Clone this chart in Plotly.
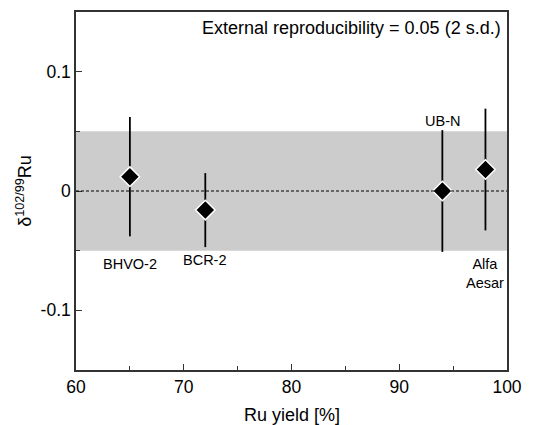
import plotly.graph_objects as go

samples = ["BHVO-2", "BCR-2", "UB-N", "Alfa<br>Aesar"]
ru_yield = [65, 72, 94, 98]
delta_ru = [0.012, -0.016, 0.000, 0.018]
err_2sd = [0.050, 0.031, 0.051, 0.051]
reproducibility = 0.05

label_y = [-0.061, -0.0575, 0.059, -0.069]

font = "Liberation Sans, Arial, sans-serif"
fig = go.Figure()

fig.add_shape(type="rect", xref="x", yref="y", x0=60, x1=100,
              y0=-reproducibility, y1=reproducibility,
              fillcolor="#cccccc", line=dict(width=0), layer="below")
fig.add_shape(type="line", xref="x", yref="y", x0=60, x1=100, y0=0, y1=0,
              line=dict(color="black", width=1, dash="3px,2px"))

fig.add_trace(go.Scatter(
    x=ru_yield, y=delta_ru, mode="markers",
    error_y=dict(type="data", array=err_2sd, color="black", thickness=1.8, width=0),
    marker=dict(symbol="diamond", size=15, color="black",
                line=dict(color="white", width=1.5)),
    showlegend=False))

for s, xv, yv in zip(samples, ru_yield, label_y):
    fig.add_annotation(x=xv, y=yv, text=s, showarrow=False,
                       font=dict(family=font, size=14.5, color="black"),
                       yanchor="middle")

fig.add_annotation(xref="paper", yref="paper", x=0.99, y=0.955,
                   text="External reproducibility = 0.05 (2 s.d.)",
                   showarrow=False, xanchor="right", yanchor="middle",
                   font=dict(family=font, size=18, color="black"))

# axis titles
fig.add_annotation(xref="paper", yref="paper", x=0.5, y=-0.125,
                   text="Ru yield [%]", showarrow=False,
                   xanchor="center", yanchor="middle",
                   font=dict(family=font, size=18, color="black"))
fig.add_annotation(xref="paper", yref="paper", x=-0.121, y=0.5,
                   text="δ<sup>102/99</sup>Ru", showarrow=False, textangle=-90,
                   xanchor="center", yanchor="middle",
                   font=dict(family=font, size=18, color="black"))

axis_common = dict(showline=True, linecolor="#333333", linewidth=1.5, mirror=True,
                   ticks="inside", tickcolor="#333333", ticklen=6, showgrid=False,
                   zeroline=False, tickfont=dict(family=font, size=17.5, color="black"))

fig.update_xaxes(range=[60, 100], tickvals=[60, 70, 80, 90, 100],
                 minor=dict(tickvals=[65, 75, 85, 95], ticks="inside", ticklen=4, tickcolor="#333333"),
                 **axis_common)
fig.update_yaxes(range=[-0.15, 0.15], tickvals=[-0.1, 0, 0.1], ticktext=["-0.1", "0", "0.1"],
                 minor=dict(tickvals=[-0.05, 0.05], ticks="inside", ticklen=4, tickcolor="#333333"),
                 **axis_common)

fig.update_layout(width=536, height=417, plot_bgcolor="white", paper_bgcolor="white",
                  margin=dict(l=68, r=37, t=2, b=55))

fig.write_html("out.html")
